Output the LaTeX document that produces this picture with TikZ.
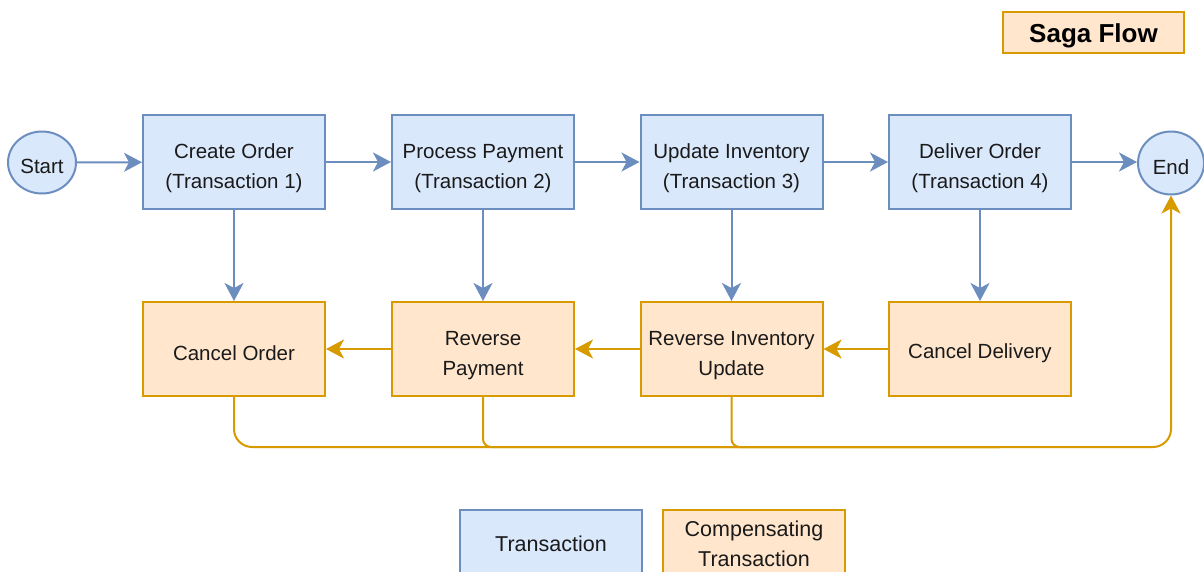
\documentclass[tikz,border=0pt]{standalone}
\usepackage{fontspec}
\setmainfont{Liberation Sans}
\usetikzlibrary{arrows.meta,shapes.geometric}
\definecolor{blueF}{HTML}{DAE8FC}
\definecolor{blueS}{HTML}{6C8EBF}
\definecolor{orF}{HTML}{FFE6CC}
\definecolor{orS}{HTML}{D79B00}
\definecolor{txt}{HTML}{1A1A1A}
\newcommand{\twolift}{\rule{0pt}{27pt}}
\newcommand{\onelift}{\rule{0pt}{23pt}}
\tikzset{
  base/.style={rectangle, line width=2pt, align=center, text=txt,
    font=\fontsize{20.5}{30}\selectfont, inner sep=0pt},
  tbox/.style={base, draw=blueS, fill=blueF, minimum width=182pt, minimum height=94pt},
  cbox/.style={base, draw=orS, fill=orF, minimum width=182pt, minimum height=94pt},
  term/.style={ellipse, draw=blueS, fill=blueF, line width=2pt, text=txt,
    font=\fontsize{20.5}{30}\selectfont, inner sep=0pt},
  bline/.style={draw=blueS, line width=2pt, -{Stealth[length=18pt,width=19pt,inset=5pt]}},
  oline/.style={draw=orS, line width=2pt, -{Stealth[length=18pt,width=19pt,inset=5pt]}},
  obus/.style={draw=orS, line width=2pt},
}
\begin{document}
\begin{tikzpicture}[x=1pt, y=-1pt]
\useasboundingbox (0,0) rectangle (1204,571);
\clip (0,0) rectangle (1204,571);
% title
\node[base, draw=orS, fill=orF, minimum width=181pt, minimum height=41pt,
  font=\fontsize{26}{30}\selectfont\bfseries, text=black] (title) at (1093.5,32.5) {\rule{0pt}{25pt}Saga Flow};
% terminals
\node[term, minimum width=68pt, minimum height=62pt] (st) at (42,162.5) {\onelift Start};
\node[term, minimum width=66pt, minimum height=63pt] (en) at (1171,163) {\onelift End};
% transactions
\node[tbox] (t1) at (234,162) {\twolift Create Order\\(Transaction 1)};
\node[tbox] (t2) at (483,162) {\twolift Process Payment\\(Transaction 2)};
\node[tbox] (t3) at (731.5,162) {\twolift Update Inventory\\(Transaction 3)};
\node[tbox] (t4) at (980,162) {\twolift Deliver Order\\(Transaction 4)};
% compensations
\node[cbox] (c1) at (234,349) {\onelift Cancel Order};
\node[cbox] (c2) at (483,349) {\twolift Reverse\\Payment};
\node[cbox] (c3) at (731.5,349) {\twolift Reverse Inventory\\Update};
\node[cbox] (c4) at (980,349) {\onelift Cancel Delivery};
% legend
\node[tbox, minimum height=68pt, font=\fontsize{21.5}{30}\selectfont] (lg1) at (551,544) {Transaction};
\node[cbox, minimum height=68pt, font=\fontsize{21.5}{30}\selectfont] (lg2) at (754,544) {Compensating\\Transaction};
% forward flow
\draw[bline] (st) -- (t1);
\draw[bline] (t1) -- (t2);
\draw[bline] (t2) -- (t3);
\draw[bline] (t3) -- (t4);
\draw[bline] (t4.east) -- (t4.east -| en.west);
% failures
\draw[bline] (t1) -- (c1);
\draw[bline] (t2) -- (c2);
\draw[bline] (t3) -- (c3);
\draw[bline] (t4) -- (c4);
% compensation chain
\draw[oline] (c4) -- (c3);
\draw[oline] (c3) -- (c2);
\draw[oline] (c2) -- (c1);
% to end
\coordinate (bus) at (1171,447);
\coordinate (busmid) at (1000,447);
\draw[obus, rounded corners=8pt] (c2.south) |- (busmid);
\draw[obus, rounded corners=8pt] (c3.south) |- (busmid);
\draw[oline, rounded corners=18pt] (c1.south) |- (bus) -- (en.south);
\end{tikzpicture}
\end{document}
